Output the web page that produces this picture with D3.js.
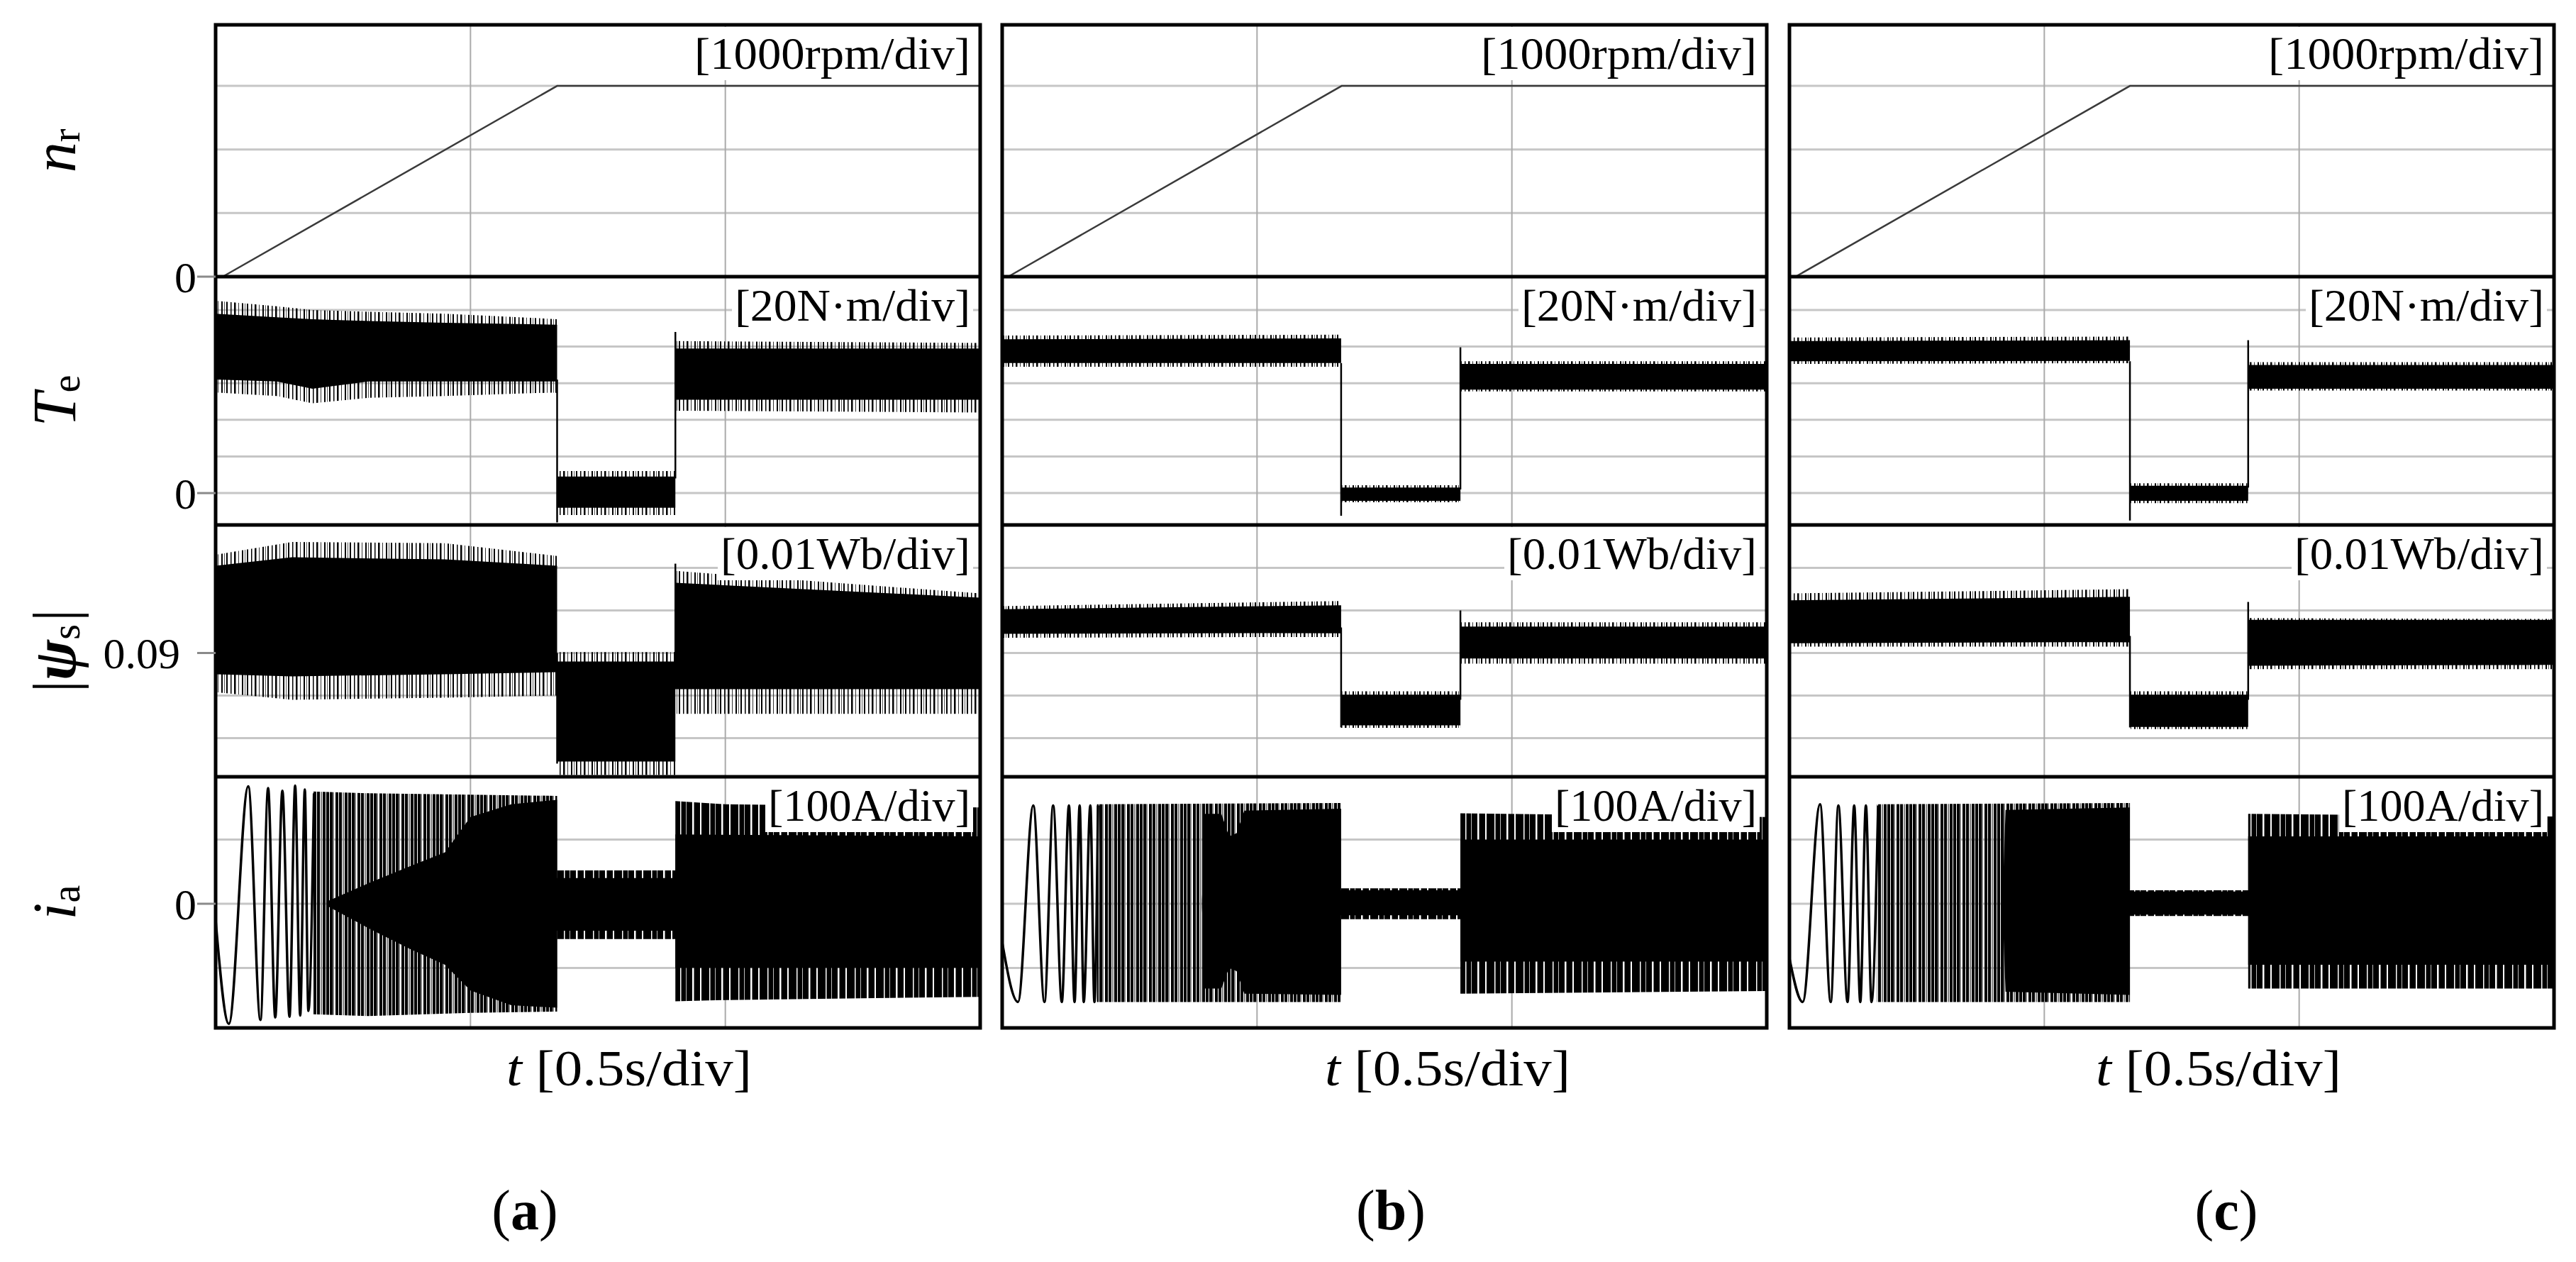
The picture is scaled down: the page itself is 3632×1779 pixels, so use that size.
<!DOCTYPE html>
<html>
<head>
<meta charset="utf-8">
<script src="https://cdn.jsdelivr.net/npm/d3@7"></script>
<style>
  body { margin: 0; background: #fff; }
  svg { display: block; }
  text { font-family: "Liberation Serif", "DejaVu Serif", serif; fill: #000; }
</style>
</head>
<body>
<div id="vis"></div>
<script>
// Three oscilloscope-style columns (a)(b)(c), four stacked rows each:
// speed n_r, torque T_e, flux |psi_s|, phase current i_a.
// Noisy traces are stored as envelopes: [t, lo, hi].
// "core" = solid black part, "fringe" = spiky edge around it.

// ── Axes ────────────────────────────────────────────────────────────────────
const T_DOMAIN = [0, 1.5];            // 3 div x 0.5 s
const T_GRID   = [0.5, 1.0];

const NR_DOMAIN  = [0, 3960];
const TE_DOMAIN  = [-17.4, 118.2];
const PSI_DOMAIN = [0.0609, 0.1201];
const IA_DOMAIN  = [-193.4, 197.8];

const NR_GRID  = [1000, 2000, 3000];
const TE_GRID  = [0, 20, 40, 60, 80, 100];
const PSI_GRID = [0.07, 0.08, 0.09, 0.10, 0.11];
const IA_GRID  = [-100, 0, 100];

const NR_TICK  = [0];
const TE_TICK  = [0];
const PSI_TICK = [0.09];
const IA_TICK  = [0];

const UNITS   = ["[1000rpm/div]", "[20N·m/div]", "[0.01Wb/div]", "[100A/div]"];
const T_LABEL = "[0.5s/div]";
const TAGS    = ["a", "b", "c"];

// ── Speed n_r [rpm]: [t, value] ─────────────────────────────────────────────
const NR_A = [[0.014, 0], [0.670, 3000], [1.5, 3000]];
const NR_B = [[0.012, 0], [0.666, 3000], [1.5, 3000]];
const NR_C = [[0.012, 0], [0.668, 3000], [1.5, 3000]];

// ── Torque T_e [N·m]: [t, lo, hi] ───────────────────────────────────────────
const TE_A_CORE = [
  [0.00, 62, 98], [0.12, 61, 96], [0.19, 57, 95], [0.30, 61, 94], [0.45, 61, 93], [0.670, 61, 92],
  [0.670, -8, 9], [0.902, -8, 9],
  [0.902, 51, 79], [1.50, 51, 79]
];
const TE_A_FRINGE = [
  [0.00, 55, 105], [0.12, 53, 102], [0.19, 49, 100], [0.30, 52, 99], [0.45, 53, 98], [0.670, 55, 95],
  [0.670, -12, 12], [0.902, -12, 12],
  [0.902, 45, 83], [1.50, 44, 82]
];
const TE_A_STEPS = [[0.670, 62, -16], [0.902, 8, 88]];

const TE_B_CORE = [
  [0.00, 71, 84], [0.665, 71, 84.5],
  [0.665, -4.2, 3], [0.899, -4.2, 3],
  [0.899, 56.5, 70.5], [1.50, 56.5, 70.5]
];
const TE_B_FRINGE = [
  [0.00, 69, 86], [0.665, 69, 86.5],
  [0.665, -5, 4.3], [0.899, -5, 4.3],
  [0.899, 55.5, 72], [1.50, 55.5, 72]
];
const TE_B_STEPS = [[0.665, 71, -12.4], [0.899, 2, 79.6]];

const TE_C_CORE = [
  [0.00, 72, 83], [0.668, 72.2, 83.5],
  [0.668, -4.2, 4], [0.900, -4.2, 4],
  [0.900, 57, 70], [1.50, 57, 70]
];
const TE_C_FRINGE = [
  [0.00, 70.5, 85], [0.668, 71, 85.5],
  [0.668, -5.5, 5.4], [0.900, -5.5, 5.4],
  [0.900, 56, 71.5], [1.50, 56, 71.5]
];
const TE_C_STEPS = [[0.668, 72, -15], [0.900, 3, 83.5]];

// ── Stator flux |psi_s| [Wb]: [t, lo, hi] ───────────────────────────────────
const PSI_A_CORE = [
  [0.00, 0.0850, 0.1105], [0.15, 0.0845, 0.1125], [0.45, 0.0850, 0.1120], [0.670, 0.0855, 0.1105],
  [0.670, 0.0645, 0.0880], [0.902, 0.0645, 0.0880],
  [0.902, 0.0815, 0.1065], [1.50, 0.0815, 0.1030]
];
const PSI_A_FRINGE = [
  [0.00, 0.0808, 0.1131], [0.15, 0.0790, 0.1161], [0.45, 0.0795, 0.1158], [0.670, 0.0800, 0.1128],
  [0.670, 0.0613, 0.0902], [0.902, 0.0613, 0.0902],
  [0.902, 0.0757, 0.1093], [1.50, 0.0757, 0.1040]
];
const PSI_A_STEPS = [[0.670, 0.090, 0.064], [0.902, 0.085, 0.111]];

const PSI_B_CORE = [
  [0.00, 0.0945, 0.1003], [0.665, 0.0947, 0.1012],
  [0.665, 0.0730, 0.0802], [0.899, 0.0730, 0.0802],
  [0.899, 0.0887, 0.0962], [1.50, 0.0887, 0.0962]
];
const PSI_B_FRINGE = [
  [0.00, 0.0936, 0.1010], [0.665, 0.0938, 0.1022],
  [0.665, 0.0724, 0.0810], [0.899, 0.0724, 0.0810],
  [0.899, 0.0875, 0.0972], [1.50, 0.0875, 0.0972]
];
const PSI_B_STEPS = [[0.665, 0.096, 0.0725], [0.899, 0.079, 0.100]];

const PSI_C_CORE = [
  [0.00, 0.0923, 0.1024], [0.668, 0.0926, 0.1032],
  [0.668, 0.0726, 0.0802], [0.900, 0.0726, 0.0802],
  [0.900, 0.0870, 0.0978], [1.50, 0.0872, 0.0978]
];
const PSI_C_FRINGE = [
  [0.00, 0.0915, 0.1040], [0.668, 0.0915, 0.1050],
  [0.668, 0.0721, 0.0810], [0.900, 0.0721, 0.0810],
  [0.900, 0.0862, 0.0982], [1.50, 0.0862, 0.0980]
];
const PSI_C_STEPS = [[0.668, 0.094, 0.0725], [0.900, 0.079, 0.102]];

// ── Phase current i_a [A] ───────────────────────────────────────────────────
// first visible cycles: extrema [t, value]
const IA_A_WAVE = [
  [0.000, -25], [0.026, -187], [0.064, 183], [0.088, -181], [0.103, 180], [0.117, -177],
  [0.131, 176], [0.145, -176], [0.156, 184], [0.166, -174], [0.175, 178], [0.182, -167], [0.193, 172]
];
const IA_B_WAVE = [
  [0.000, -60], [0.031, -153], [0.061, 153], [0.083, -153], [0.100, 153], [0.117, -153],
  [0.131, 153], [0.142, -153], [0.152, 153], [0.160, -153], [0.173, 153], [0.181, -153], [0.188, 153]
];
const IA_C_WAVE = [
  [0.000, -85], [0.026, -153], [0.060, 155], [0.081, -153], [0.096, 153], [0.114, -153],
  [0.127, 153], [0.139, -153], [0.150, 153], [0.161, -153], [0.174, 153]
];
// aliased high-frequency part during acceleration: [t, lo, hi]
const IA_A_STRIPES = [[0.190, -172, 175], [0.30, -175, 172], [0.50, -170, 170], [0.670, -168, 168]];
const IA_B_STRIPES = [[0.186, -153, 155], [0.665, -153, 157]];
const IA_C_STRIPES = [[0.172, -153, 155], [0.668, -153, 157]];

const IA_A_CORE = [
  [0.22, -4, 4], [0.30, -38, 32], [0.38, -70, 58], [0.45, -95, 80], [0.50, -135, 135],
  [0.58, -158, 155], [0.670, -162, 162],
  [0.670, -42, 40], [0.902, -42, 40],
  [0.902, -100, 108], [1.50, -100, 105]
];
const IA_B_CORE = [
  [0.392, -6, 6], [0.398, -132, 140], [0.430, -132, 140], [0.445, -100, 105], [0.460, -105, 110],
  [0.475, -140, 145], [0.665, -142, 148],
  [0.665, -18, 21], [0.899, -18, 21],
  [0.899, -90, 100], [1.50, -90, 100]
];
const IA_C_CORE = [
  [0.418, -6, 6], [0.424, -137, 146], [0.668, -142, 150],
  [0.668, -17, 19], [0.900, -17, 19],
  [0.900, -95, 105], [1.50, -95, 105]
];

const IA_A_FRINGE = [[0.670, -55, 52], [0.902, -55, 52], [0.902, -152, 160], [1.00, -150, 155], [1.50, -145, 150]];
const IA_B_FRINGE = [[0.665, -24, 24], [0.899, -24, 24], [0.899, -140, 141], [1.50, -136, 135]];
const IA_C_FRINGE = [[0.668, -19, 21], [0.900, -19, 21], [0.900, -132, 140], [1.50, -132, 136]];

// ── Layout ──────────────────────────────────────────────────────────────────
const W = 3632, H = 1779;
const COL_X = [304, 1413, 2523];
const COL_W = 1078;
const ROW_Y = [35, 390, 740, 1095, 1449];
const UNIT_W = [389, 332, 352, 285];        // rendered widths of unit labels
const TLABEL_X = [410, 455, 432];           // offset of "t [...]" from column left
const TAG_X = [740, 1961, 3139];            // centre of (a)(b)(c)

const rows = [
  { domain: NR_DOMAIN,  grid: NR_GRID,  ticks: NR_TICK  },
  { domain: TE_DOMAIN,  grid: TE_GRID,  ticks: TE_TICK  },
  { domain: PSI_DOMAIN, grid: PSI_GRID, ticks: PSI_TICK },
  { domain: IA_DOMAIN,  grid: IA_GRID,  ticks: IA_TICK  },
];

const cols = [
  { nr: NR_A, te: [TE_A_FRINGE, TE_A_CORE, TE_A_STEPS], psi: [PSI_A_FRINGE, PSI_A_CORE, PSI_A_STEPS],
    ia: { wave: IA_A_WAVE, stripes: IA_A_STRIPES, core: IA_A_CORE, fringe: IA_A_FRINGE } },
  { nr: NR_B, te: [TE_B_FRINGE, TE_B_CORE, TE_B_STEPS], psi: [PSI_B_FRINGE, PSI_B_CORE, PSI_B_STEPS],
    ia: { wave: IA_B_WAVE, stripes: IA_B_STRIPES, core: IA_B_CORE, fringe: IA_B_FRINGE } },
  { nr: NR_C, te: [TE_C_FRINGE, TE_C_CORE, TE_C_STEPS], psi: [PSI_C_FRINGE, PSI_C_CORE, PSI_C_STEPS],
    ia: { wave: IA_C_WAVE, stripes: IA_C_STRIPES, core: IA_C_CORE, fringe: IA_C_FRINGE } },
];

const svg = d3.select("#vis").append("svg")
  .attr("width", W)
  .attr("height", H);

svg.append("rect").attr("width", W).attr("height", H).attr("fill", "#fff");

// ── Hatch patterns (mimic the aliased scope traces) ─────────────────────────
// each part: [x, width, colour] inside one pattern period
const defs = svg.append("defs");
function hatch(id, period, bg, parts) {
  const p = defs.append("pattern")
    .attr("id", id)
    .attr("patternUnits", "userSpaceOnUse")
    .attr("width", period).attr("height", 40);
  if (bg) p.append("rect").attr("width", period).attr("height", 40).attr("fill", bg);
  parts.forEach(([x, w, c]) =>
    p.append("rect").attr("x", x).attr("width", w).attr("height", 40).attr("fill", c));
}
hatch("hatch-sparse", 29, null,
  [[0, 2, "#000"], [6, 1.5, "#000"], [11, 2.5, "#000"], [17, 1, "#333"], [22, 2, "#000"], [26, 1, "#555"]]);
hatch("hatch-mid", 31, null,
  [[0, 4, "#000"], [4, 2, "#808080"], [8, 4, "#000"], [13, 4, "#000"], [18, 2, "#808080"],
   [21, 4, "#000"], [26, 4, "#000"]]);
hatch("hatch-dense", 41, "#000",
  [[3, 2, "#fff"], [16, 1.5, "#fff"], [24, 1, "#bbb"], [33, 2.5, "#fff"]]);

// ── Columns ─────────────────────────────────────────────────────────────────
cols.forEach((col, ci) => {
  const x0 = COL_X[ci], x1 = x0 + COL_W;
  const x = d3.scaleLinear().domain(T_DOMAIN).range([x0, x1]);
  const ys = rows.map((r, ri) => d3.scaleLinear().domain(r.domain).range([ROW_Y[ri + 1], ROW_Y[ri]]));

  const g = svg.append("g");

  defs.append("clipPath").attr("id", `clip-${ci}`)
    .append("rect")
      .attr("x", x0).attr("y", ROW_Y[0])
      .attr("width", COL_W).attr("height", ROW_Y[4] - ROW_Y[0]);

  // grid
  const grid = g.append("g");
  rows.forEach((r, ri) => {
    grid.selectAll(null)
      .data(r.grid)
      .join("line")
        .attr("x1", x0).attr("x2", x1)
        .attr("y1", d => ys[ri](d)).attr("y2", d => ys[ri](d))
        .attr("stroke", "#c6c6c6").attr("stroke-width", 3);
  });
  grid.selectAll(null)
    .data(T_GRID)
    .join("line")
      .attr("x1", d => x(d)).attr("x2", d => x(d))
      .attr("y1", ROW_Y[0]).attr("y2", ROW_Y[4])
      .attr("stroke", "#aaaaaa").attr("stroke-width", 2);

  const traces = g.append("g").attr("clip-path", `url(#clip-${ci})`);

  const band = y => d3.area().x(d => x(d[0])).y0(d => y(d[1])).y1(d => y(d[2]));
  const steps = (y, data) => traces.selectAll(null)
    .data(data)
    .join("line")
      .attr("x1", d => x(d[0])).attr("x2", d => x(d[0]))
      .attr("y1", d => y(d[1])).attr("y2", d => y(d[2]))
      .attr("stroke", "#000").attr("stroke-width", 2.5);

  // n_r
  traces.append("path")
    .datum(col.nr)
    .attr("d", d3.line().x(d => x(d[0])).y(d => ys[0](d[1])))
    .attr("fill", "none").attr("stroke", "#3a3a3a").attr("stroke-width", 2.5);

  // T_e and |psi_s|
  [[col.te, ys[1]], [col.psi, ys[2]]].forEach(([[fringe, core, st], y]) => {
    traces.append("path").datum(fringe).attr("d", band(y)).attr("fill", "url(#hatch-sparse)");
    traces.append("path").datum(core).attr("d", band(y)).attr("fill", "#000");
    steps(y, st);
  });

  // i_a
  const yi = ys[3];
  traces.append("path").datum(col.ia.stripes).attr("d", band(yi)).attr("fill", "url(#hatch-mid)");
  traces.append("path").datum(col.ia.fringe).attr("d", band(yi)).attr("fill", "url(#hatch-dense)");
  traces.append("path").datum(col.ia.core).attr("d", band(yi)).attr("fill", "#000");
  traces.append("path")
    .datum(col.ia.wave)
    .attr("d", d3.line().x(d => x(d[0])).y(d => yi(d[1])).curve(d3.curveMonotoneX))
    .attr("fill", "none").attr("stroke", "#000").attr("stroke-width", 3.5);

  // unit labels on white boxes
  UNITS.forEach((u, ri) => {
    const lg = g.append("g");
    const t = lg.append("text")
      .attr("x", x1 - 14)
      .attr("y", ROW_Y[ri] + 62)
      .attr("text-anchor", "end")
      .attr("textLength", UNIT_W[ri])
      .attr("lengthAdjust", "spacingAndGlyphs")
      .style("font-size", "64px")
      .text(u);
    const bb = t.node().getBBox();
    lg.insert("rect", "text")
      .attr("x", bb.x - 4).attr("y", bb.y - 2)
      .attr("width", bb.width + 8).attr("height", bb.height + 4)
      .attr("fill", "#fff");
  });

  // frame and row separators
  g.append("rect")
    .attr("x", x0).attr("y", ROW_Y[0])
    .attr("width", COL_W).attr("height", ROW_Y[4] - ROW_Y[0])
    .attr("fill", "none").attr("stroke", "#000").attr("stroke-width", 5);
  g.selectAll(null)
    .data(ROW_Y.slice(1, 4))
    .join("line")
      .attr("x1", x0).attr("x2", x1)
      .attr("y1", d => d).attr("y2", d => d)
      .attr("stroke", "#000").attr("stroke-width", 5);

  // time label
  const tl = g.append("text")
    .attr("x", x0 + TLABEL_X[ci])
    .attr("y", 1530)
    .attr("textLength", 346)
    .attr("lengthAdjust", "spacingAndGlyphs")
    .style("font-size", "72px");
  tl.append("tspan").style("font-style", "italic").text("t");
  tl.append("tspan").text(" " + T_LABEL);

  // (a) (b) (c)
  const tag = g.append("text")
    .attr("x", TAG_X[ci]).attr("y", 1733)
    .attr("text-anchor", "middle")
    .style("font-size", "80px");
  tag.append("tspan").text("(");
  tag.append("tspan").style("font-weight", "bold").text(TAGS[ci]);
  tag.append("tspan").text(")");

  // left ticks and quantity labels only on the first column
  if (ci === 0) {
    rows.forEach((r, ri) => {
      r.ticks.forEach(v => {
        const yy = ys[ri](v);
        g.append("line")
          .attr("x1", 278).attr("x2", x0)
          .attr("y1", yy).attr("y2", yy)
          .attr("stroke", "#8a8a8a").attr("stroke-width", 3);
        const s = String(v);
        g.append("text")
          .attr("x", s.length > 1 ? 254 : 277)
          .attr("y", yy)
          .attr("dy", "0.35em")
          .attr("text-anchor", "end")
          .style("font-size", "62px")
          .text(s);
      });
    });

    const names = [
      [["n", "italic"], ["r", "sub"]],
      [["T", "italic"], ["e", "sub"]],
      [["|", ""], ["ψ", "bolditalic"], ["s", "sub"], ["|", "after"]],
      [["i", "italic"], ["a", "sub"]],
    ];
    names.forEach((parts, ri) => {
      const cy = (ROW_Y[ri] + ROW_Y[ri + 1]) / 2;
      const lab = g.append("text")
        .attr("transform", `translate(106,${cy}) rotate(-90)`)
        .attr("text-anchor", "middle")
        .style("font-size", "86px");
      parts.forEach(([s, kind]) => {
        const sp = lab.append("tspan").text(s);
        if (kind === "italic") sp.style("font-style", "italic");
        if (kind === "bolditalic") sp.style("font-style", "italic").style("font-weight", "bold");
        if (kind === "sub") sp.style("font-size", "56px").attr("dy", 6);
        if (kind === "after") sp.attr("dy", -6).attr("dx", 4);
      });
    });
  }
});
</script>
</body>
</html>
